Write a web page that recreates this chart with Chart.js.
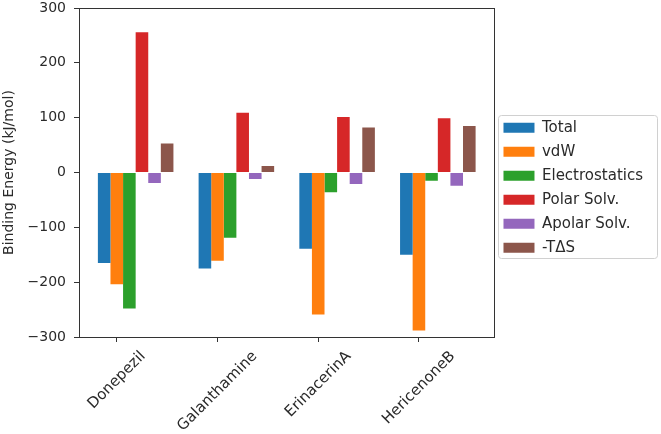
<!DOCTYPE html>
<html>
<head>
<meta charset="utf-8">
<script src="https://cdn.jsdelivr.net/npm/chart.js@4/dist/chart.umd.min.js"></script>
<style>
html,body{margin:0;padding:0;background:#fff}
</style>
</head>
<body>
<canvas id="myChart" width="661" height="434"></canvas>
<script>
const compounds = ['Donepezil', 'Galanthamine', 'ErinacerinA', 'HericenoneB']
const seriesNames = ['Total', 'vdW', 'Electrostatics', 'Polar Solv.', 'Apolar Solv.', '-TΔS']
const total = [-165, -175, -139, -150]
const vdw = [-204, -161, -259, -288]
const electrostatics = [-248, -119, -36, -15]
const polarSolv = [256, 109, 101, 99]
const apolarSolv = [-19, -12, -21, -24]
const minusTdS = [53, 12, 82, 85]
const yTicks = [300, 200, 100, 0, -100, -200, -300]

const colors = ['#1f77b4', '#ff7f0e', '#2ca02c', '#d62728', '#9467bd', '#8c564b']
const allSeries = [total, vdw, electrostatics, polarSolv, apolarSolv, minusTdS]
const ink = '#2a2a2a'

Chart.defaults.font.family = 'DejaVu Sans'
Chart.defaults.font.size = 14
Chart.defaults.color = ink

// bars sit to the right of the tick (tick is under the 2nd bar, like the original plot)
const groupShift = 0.1875

const datasets = seriesNames.map((name, s) => ({
    label: name,
    data: compounds.map((c, i) => ({x: i + groupShift, y: allSeries[s][i]})),
    backgroundColor: colors[s],
    borderWidth: 0,
    categoryPercentage: 0.75,
    barPercentage: 1
}))

// frame around the plot (all four spines)
const spines = {
    id: 'spines',
    afterDatasetsDraw(chart) {
        const {ctx, chartArea: a} = chart
        ctx.save()
        ctx.strokeStyle = '#333'
        ctx.lineWidth = 1
        ctx.strokeRect(Math.round(a.left) + 0.5, Math.round(a.top) + 0.5,
            Math.round(a.right - a.left), Math.round(a.bottom - a.top))
        ctx.restore()
    }
}

// rotated category names, centred on their tick like matplotlib rotation=45
const xLabels = {
    id: 'xLabels',
    afterDraw(chart) {
        const {ctx, chartArea: a} = chart
        const xs = chart.scales.x
        ctx.save()
        ctx.font = '15px "DejaVu Sans"'
        ctx.fillStyle = ink
        ctx.textAlign = 'center'
        ctx.textBaseline = 'middle'
        compounds.forEach((name, i) => {
            const px = xs.getPixelForValue(i)
            const w = ctx.measureText(name).width
            const half = (w + 14) / 2 * Math.SQRT1_2
            ctx.save()
            ctx.translate(px, a.bottom + 12 + half)
            ctx.rotate(-Math.PI / 4)
            ctx.fillText(name, 0, 0)
            ctx.restore()
        })
        ctx.restore()
    }
}

// rounded frame around the legend entries
const legendFrame = {
    id: 'legendFrame',
    afterDraw(chart) {
        const boxes = chart.legend.legendHitBoxes
        if (!boxes.length) return
        let l = Infinity, t = Infinity, r = -Infinity, b = -Infinity
        boxes.forEach(h => {
            l = Math.min(l, h.left); t = Math.min(t, h.top)
            r = Math.max(r, h.left + h.width); b = Math.max(b, h.top + h.height)
        })
        l -= 5; t -= 5; r += 14; b += 3
        const ctx = chart.ctx
        ctx.save()
        ctx.strokeStyle = '#d0d0d0'
        ctx.lineWidth = 1
        ctx.beginPath()
        ctx.roundRect(Math.round(l) + 0.5, Math.round(t) + 0.5, Math.round(r - l), Math.round(b - t), 3)
        ctx.stroke()
        ctx.restore()
    }
}

const ctx = document.getElementById('myChart').getContext('2d')
new Chart(ctx, {
    type: 'bar',
    data: {datasets: datasets},
    plugins: [spines, xLabels, legendFrame],
    options: {
        responsive: false,
        animation: false,
        layout: {padding: {top: 8, left: 0, right: 8, bottom: 0}},
        plugins: {
            tooltip: {enabled: false},
            legend: {
                position: 'right',
                align: 'start',
                // empty title only pushes the entries down to where the original has them
                title: {display: true, text: '', font: {size: 1}, padding: {top: 0, bottom: 102}},
                labels: {
                    boxWidth: 31,
                    boxHeight: 10,
                    padding: 9,
                    font: {size: 15},
                    color: ink
                }
            }
        },
        scales: {
            x: {
                type: 'linear',
                min: -0.375,
                max: 3.75,
                offset: false,
                afterBuildTicks: scale => { scale.ticks = compounds.map((c, i) => ({value: i})) },
                afterFit: scale => { scale.height = 97 },
                ticks: {display: false},
                grid: {display: true, offset: false, drawOnChartArea: false, drawTicks: true, tickLength: 5, color: '#333'},
                border: {display: false}
            },
            y: {
                min: -300,
                max: 300,
                afterBuildTicks: scale => { scale.ticks = yTicks.map(v => ({value: v})) },
                afterFit: scale => {
                    scale.width = 79
                    scale.paddingTop = 0
                    scale.paddingBottom = 0
                },
                ticks: {
                    padding: 8,
                    color: ink,
                    callback: v => v < 0 ? '\u2212' + Math.abs(v) : String(v)
                },
                grid: {display: true, drawOnChartArea: false, drawTicks: true, tickLength: 5, color: '#333'},
                border: {display: false},
                title: {
                    display: true,
                    text: 'Binding Energy (kJ/mol)',
                    color: ink,
                    font: {size: 14},
                    padding: {top: 1, bottom: 2}
                }
            }
        }
    }
})
</script>
</body>
</html>
